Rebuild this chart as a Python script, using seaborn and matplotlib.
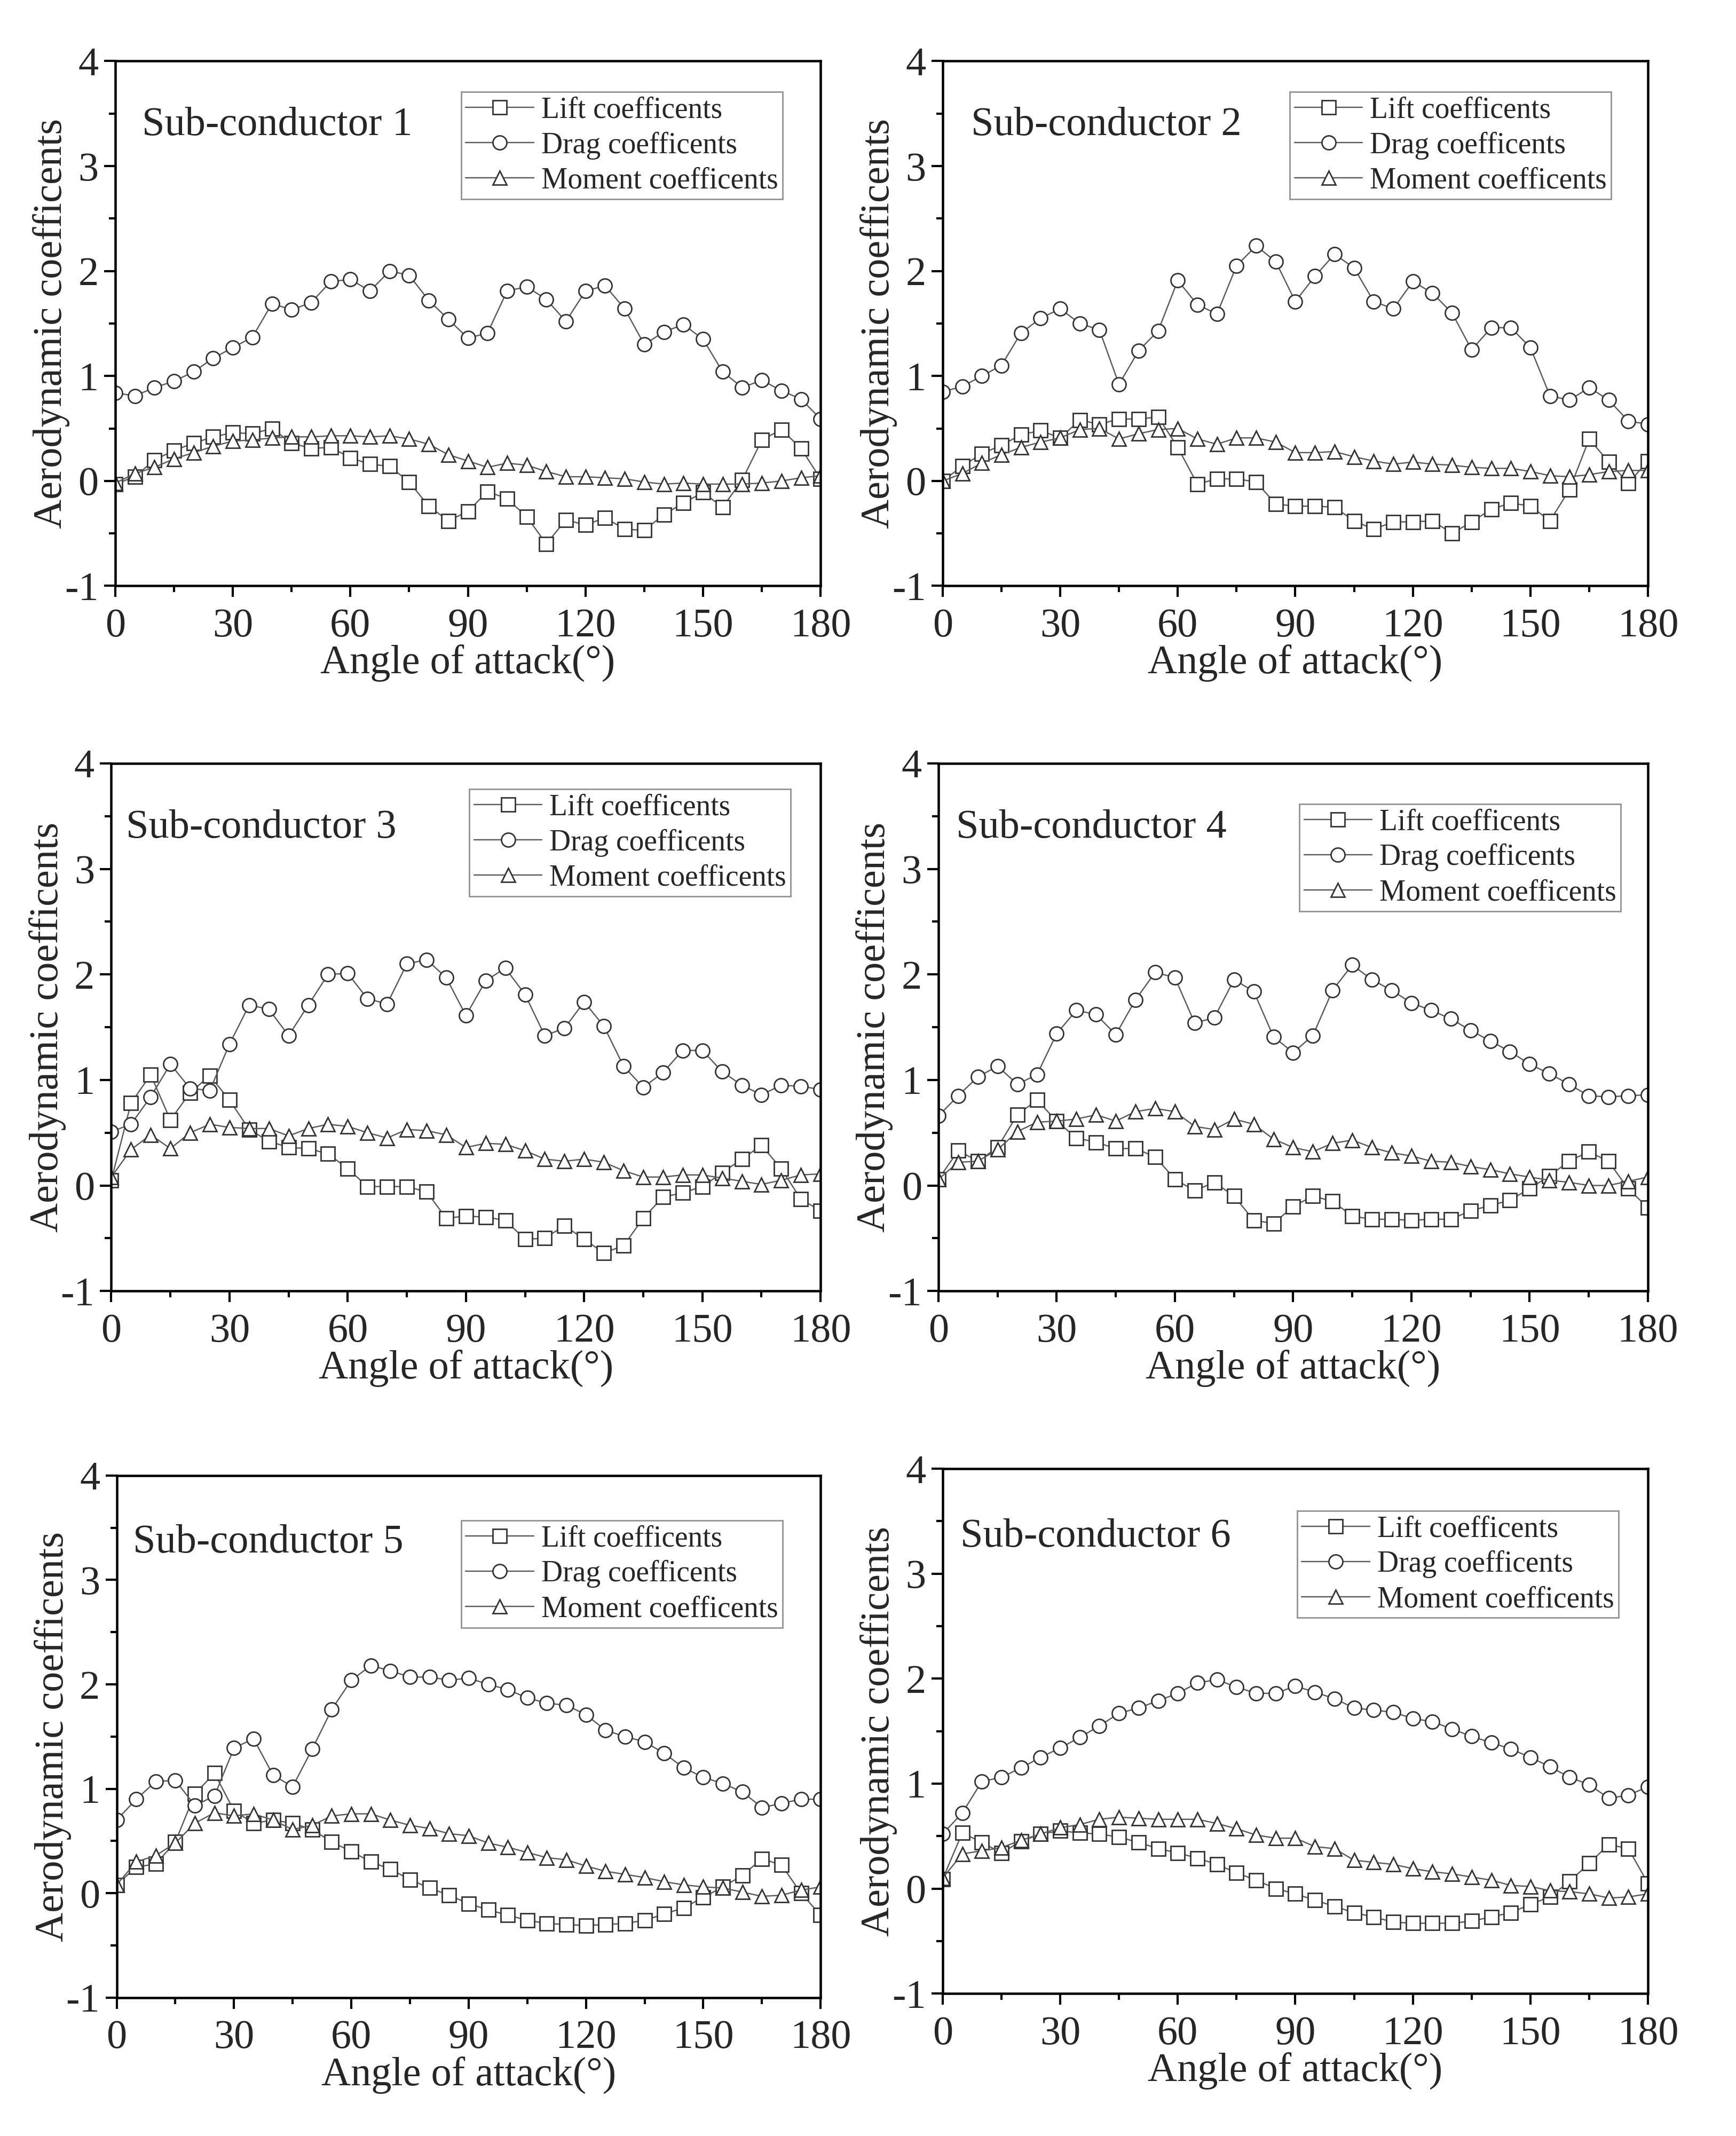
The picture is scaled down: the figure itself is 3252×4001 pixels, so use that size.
import numpy as np
import pandas as pd
import seaborn as sns
import matplotlib.pyplot as plt
from matplotlib.ticker import MultipleLocator

angles = list(range(0, 185, 5))

lift_1 = [-0.03, 0.04, 0.20, 0.29, 0.36, 0.42, 0.46, 0.45, 0.50, 0.36, 0.31, 0.32, 0.22,
          0.16, 0.14, -0.01, -0.24, -0.38, -0.29, -0.10, -0.17, -0.34, -0.60, -0.37,
          -0.42, -0.35, -0.46, -0.47, -0.32, -0.21, -0.11, -0.25, 0.01, 0.39, 0.49, 0.31, 0.02]
drag_1 = [0.84, 0.81, 0.89, 0.95, 1.04, 1.17, 1.27, 1.37, 1.69, 1.63, 1.70, 1.90, 1.92,
          1.81, 2.00, 1.96, 1.72, 1.54, 1.36, 1.41, 1.81, 1.85, 1.73, 1.52, 1.81, 1.86,
          1.64, 1.30, 1.42, 1.49, 1.35, 1.04, 0.89, 0.96, 0.86, 0.78, 0.59]
moment_1 = [-0.02, 0.07, 0.13, 0.21, 0.27, 0.33, 0.38, 0.39, 0.41, 0.42, 0.42, 0.43, 0.43,
            0.42, 0.43, 0.40, 0.35, 0.25, 0.19, 0.13, 0.17, 0.15, 0.09, 0.04, 0.04, 0.03,
            0.02, -0.01, -0.03, -0.02, -0.03, -0.03, -0.03, -0.02, 0.00, 0.03, 0.05]

lift_2 = [0.00, 0.14, 0.26, 0.34, 0.44, 0.48, 0.41, 0.58, 0.54, 0.59, 0.59, 0.61, 0.32,
          -0.03, 0.02, 0.02, -0.01, -0.22, -0.24, -0.24, -0.25, -0.38, -0.46, -0.39,
          -0.39, -0.38, -0.50, -0.39, -0.27, -0.21, -0.24, -0.38, -0.08, 0.40, 0.18, -0.02, 0.19]
drag_2 = [0.85, 0.90, 1.00, 1.10, 1.41, 1.55, 1.64, 1.50, 1.44, 0.92, 1.24, 1.43, 1.91,
          1.68, 1.59, 2.05, 2.24, 2.09, 1.71, 1.95, 2.16, 2.03, 1.71, 1.64, 1.90, 1.79,
          1.60, 1.25, 1.46, 1.46, 1.27, 0.81, 0.77, 0.89, 0.77, 0.57, 0.54]
moment_2 = [0.00, 0.07, 0.17, 0.25, 0.32, 0.37, 0.41, 0.49, 0.50, 0.40, 0.45, 0.49, 0.50,
            0.40, 0.35, 0.41, 0.41, 0.37, 0.27, 0.27, 0.28, 0.23, 0.19, 0.16, 0.18, 0.16,
            0.15, 0.13, 0.12, 0.12, 0.09, 0.05, 0.04, 0.06, 0.09, 0.10, 0.10]

lift_3 = [0.05, 0.78, 1.05, 0.62, 0.88, 1.04, 0.81, 0.53, 0.42, 0.36, 0.35, 0.30, 0.16,
          -0.01, -0.01, -0.01, -0.06, -0.31, -0.29, -0.30, -0.33, -0.51, -0.50, -0.38,
          -0.51, -0.64, -0.57, -0.31, -0.11, -0.07, -0.01, 0.12, 0.25, 0.38, 0.16, -0.13, -0.24]
drag_3 = [0.51, 0.58, 0.84, 1.15, 0.92, 0.90, 1.34, 1.71, 1.67, 1.42, 1.71, 2.00, 2.01,
          1.77, 1.72, 2.10, 2.14, 1.97, 1.61, 1.94, 2.06, 1.81, 1.42, 1.49, 1.74, 1.51,
          1.13, 0.93, 1.07, 1.28, 1.28, 1.08, 0.95, 0.86, 0.95, 0.94, 0.91]
moment_3 = [0.08, 0.34, 0.48, 0.35, 0.50, 0.58, 0.55, 0.54, 0.54, 0.47, 0.54, 0.58, 0.56,
            0.50, 0.45, 0.53, 0.52, 0.48, 0.36, 0.40, 0.39, 0.33, 0.25, 0.23, 0.25, 0.22,
            0.14, 0.08, 0.08, 0.10, 0.10, 0.07, 0.04, 0.01, 0.05, 0.10, 0.11]

lift_4 = [0.06, 0.33, 0.23, 0.36, 0.67, 0.81, 0.61, 0.45, 0.41, 0.35, 0.35, 0.27, 0.06,
          -0.05, 0.03, -0.10, -0.33, -0.36, -0.20, -0.10, -0.15, -0.29, -0.32, -0.32,
          -0.33, -0.32, -0.32, -0.24, -0.19, -0.14, -0.03, 0.09, 0.23, 0.32, 0.23, -0.03, -0.21]
drag_4 = [0.66, 0.85, 1.03, 1.13, 0.96, 1.05, 1.44, 1.66, 1.62, 1.43, 1.76, 2.02, 1.97,
          1.54, 1.59, 1.95, 1.84, 1.41, 1.26, 1.42, 1.85, 2.09, 1.95, 1.85, 1.73, 1.66,
          1.58, 1.47, 1.37, 1.27, 1.15, 1.06, 0.96, 0.85, 0.84, 0.85, 0.86]
moment_4 = [0.06, 0.22, 0.23, 0.34, 0.51, 0.60, 0.61, 0.63, 0.67, 0.61, 0.70, 0.73, 0.70,
            0.56, 0.53, 0.63, 0.58, 0.44, 0.36, 0.32, 0.40, 0.43, 0.36, 0.31, 0.28, 0.23,
            0.22, 0.18, 0.15, 0.11, 0.08, 0.05, 0.03, 0.00, 0.00, 0.04, 0.08]

lift_5 = [0.08, 0.25, 0.28, 0.49, 0.95, 1.15, 0.79, 0.67, 0.70, 0.67, 0.61, 0.49, 0.40,
          0.30, 0.23, 0.13, 0.05, -0.02, -0.10, -0.16, -0.21, -0.26, -0.29, -0.30,
          -0.31, -0.30, -0.29, -0.26, -0.20, -0.14, -0.04, 0.06, 0.17, 0.33, 0.27, 0.00, -0.21]
drag_5 = [0.70, 0.90, 1.07, 1.08, 0.84, 0.93, 1.39, 1.48, 1.13, 1.02, 1.38, 1.76, 2.04,
          2.18, 2.13, 2.07, 2.07, 2.04, 2.06, 2.00, 1.95, 1.87, 1.82, 1.80, 1.71, 1.56,
          1.50, 1.45, 1.34, 1.20, 1.11, 1.05, 0.97, 0.82, 0.86, 0.90, 0.90]
moment_5 = [0.08, 0.30, 0.36, 0.48, 0.67, 0.77, 0.74, 0.76, 0.70, 0.61, 0.65, 0.74, 0.76,
            0.76, 0.70, 0.65, 0.62, 0.57, 0.55, 0.48, 0.44, 0.39, 0.34, 0.32, 0.26, 0.21,
            0.18, 0.15, 0.11, 0.08, 0.06, 0.05, 0.01, -0.03, -0.02, 0.03, 0.06]

lift_6 = [0.09, 0.53, 0.44, 0.34, 0.45, 0.52, 0.55, 0.53, 0.52, 0.49, 0.44, 0.38, 0.34,
          0.29, 0.23, 0.15, 0.08, 0.00, -0.05, -0.11, -0.17, -0.23, -0.27, -0.32,
          -0.33, -0.33, -0.33, -0.31, -0.27, -0.23, -0.15, -0.08, 0.07, 0.24, 0.42, 0.38, 0.05]
drag_6 = [0.52, 0.72, 1.02, 1.06, 1.15, 1.25, 1.34, 1.44, 1.55, 1.67, 1.72, 1.79, 1.86,
          1.96, 1.99, 1.92, 1.86, 1.86, 1.93, 1.87, 1.81, 1.72, 1.70, 1.68, 1.62, 1.59,
          1.52, 1.45, 1.39, 1.33, 1.25, 1.16, 1.06, 0.99, 0.86, 0.89, 0.97]
moment_6 = [0.10, 0.33, 0.36, 0.39, 0.46, 0.52, 0.58, 0.61, 0.66, 0.68, 0.67, 0.66, 0.66,
            0.66, 0.62, 0.57, 0.51, 0.48, 0.48, 0.40, 0.38, 0.27, 0.25, 0.23, 0.19, 0.16,
            0.14, 0.11, 0.08, 0.03, 0.02, -0.02, -0.03, -0.05, -0.09, -0.08, -0.05]

panels = [
    ("Sub-conductor 1", lift_1, drag_1, moment_1),
    ("Sub-conductor 2", lift_2, drag_2, moment_2),
    ("Sub-conductor 3", lift_3, drag_3, moment_3),
    ("Sub-conductor 4", lift_4, drag_4, moment_4),
    ("Sub-conductor 5", lift_5, drag_5, moment_5),
    ("Sub-conductor 6", lift_6, drag_6, moment_6),
]

# axes boxes [left, bottom, width, height] in figure fractions
boxes = [
    [0.0664, 0.7257, 0.4063, 0.2457],
    [0.5430, 0.7257, 0.4063, 0.2457],
    [0.0641, 0.3956, 0.4086, 0.2470],
    [0.5406, 0.3956, 0.4086, 0.2470],
    [0.0672, 0.0648, 0.4055, 0.2444],
    [0.5430, 0.0667, 0.4063, 0.2457],
]
legend_anchor = [(0.946, 0.941), (0.948, 0.941), (0.958, 0.951),
                 (0.962, 0.923), (0.946, 0.914), (0.958, 0.920)]
title_pos = [(0.038, 0.878), (0.040, 0.878), (0.021, 0.878),
             (0.025, 0.878), (0.023, 0.872), (0.025, 0.870)]

sns.set_style('ticks')
plt.rcParams['font.family'] = ['Liberation Serif', 'DejaVu Serif']
plt.rcParams['axes.unicode_minus'] = False

fig = plt.figure(figsize=(13.008, 16.004), dpi=250)

line_kw = dict(color='#5a5a5a', linewidth=0.7, markersize=7.5, markerfacecolor='white',
               markeredgecolor='#333333', markeredgewidth=0.8)

for i, (name, lift, drag, moment) in enumerate(panels):
    ax = fig.add_axes(boxes[i])
    df = pd.DataFrame({'angle': angles, 'lift': lift, 'drag': drag, 'moment': moment})
    sns.lineplot(data=df, x='angle', y='lift', ax=ax, marker='s',
                 label='Lift coefficents', **line_kw)
    sns.lineplot(data=df, x='angle', y='drag', ax=ax, marker='o',
                 label='Drag coefficents', **line_kw)
    sns.lineplot(data=df, x='angle', y='moment', ax=ax, marker='^',
                 label='Moment coefficents', **line_kw)

    ax.set_xlim(0, 180)
    ax.set_ylim(-1, 4)
    ax.xaxis.set_major_locator(MultipleLocator(30))
    ax.xaxis.set_minor_locator(MultipleLocator(15))
    ax.yaxis.set_major_locator(MultipleLocator(1))
    ax.yaxis.set_minor_locator(MultipleLocator(0.5))
    ax.tick_params(which='both', direction='out', top=False, right=False,
                   color='black', width=1.2)
    ax.tick_params(which='major', length=6, labelsize=22)
    ax.tick_params(axis='x', which='major', pad=6)
    ax.tick_params(axis='y', which='major', pad=3)
    ax.tick_params(which='minor', length=3.5)
    for sp in ax.spines.values():
        sp.set_linewidth(1.3)
        sp.set_color('black')

    ax.set_xlabel('Angle of attack(°)', fontsize=22, labelpad=0)
    ax.set_ylabel('Aerodynamic coefficents', fontsize=22, labelpad=-3)
    ax.text(title_pos[i][0], title_pos[i][1], name, transform=ax.transAxes,
            fontsize=22, va='center', ha='left')

    leg = ax.legend(loc='upper right', bbox_to_anchor=legend_anchor[i], fontsize=16,
                    frameon=True, fancybox=False, handlelength=2.3, handletextpad=0.25,
                    borderpad=0.15, labelspacing=0.25, borderaxespad=0)
    leg.get_frame().set_edgecolor('#777777')
    leg.get_frame().set_linewidth(0.8)

fig.savefig('out.png', dpi=250)
